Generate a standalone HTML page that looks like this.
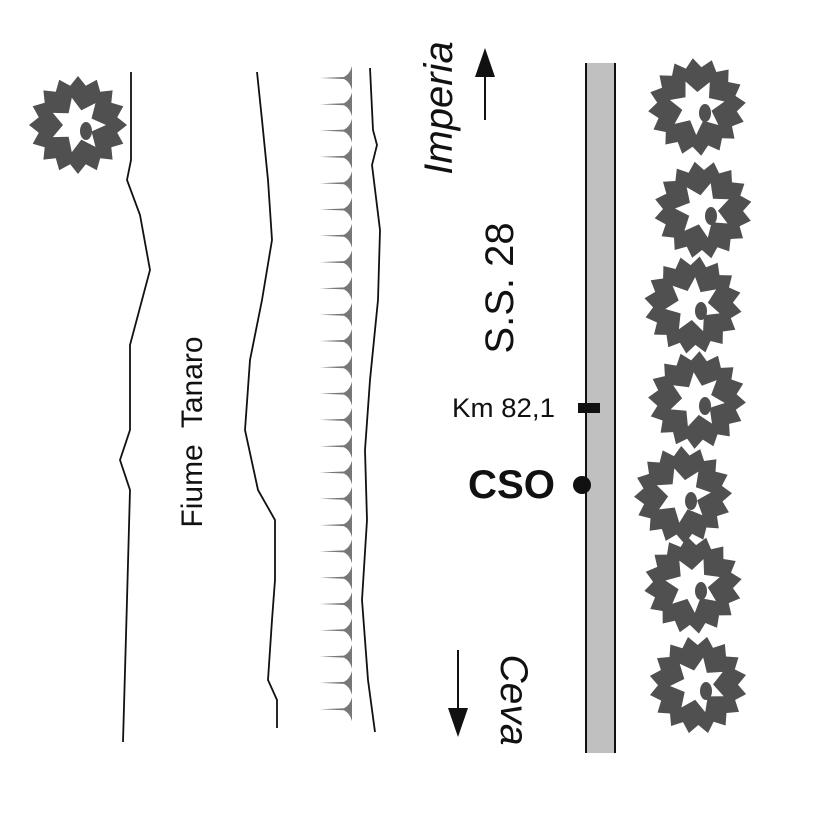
<!DOCTYPE html>
<html><head><meta charset="utf-8"><style>
html,body{margin:0;padding:0;background:#fff;width:826px;height:826px;overflow:hidden}
svg text{font-family:"Liberation Sans",Arial,sans-serif}
</style></head><body>
<svg id="s" width="826" height="826" viewBox="0 0 826 826" xmlns="http://www.w3.org/2000/svg">
<defs>
<g id="spike"><path d="M-32,0 L-8,-1 Q-2,-4 0,-12 L0,12 Q-2,4 -8,1 Z" fill="#777"/></g>
</defs>
<g fill="none" stroke="#111" stroke-width="1.8">
<polyline points="131,72 131,160 127,180 140,215 150,270 130,345 130,430 120,460 130,490 127,600 123,742"/>
<polyline points="257,72 262,120 268,180 272,240 262,300 250,360 245,430 258,490 275,520 275,580 272,620 268,680 277,700 277,728"/>
<polyline points="370,68 373,130 377,145 372,165 380,230 378,300 370,380 365,450 367,520 362,600 368,680 375,732"/>
</g>
<g id="spikes"></g>
<rect x="586" y="63" width="29" height="690" fill="#c0c0c0"/>
<line x1="586" y1="63" x2="586" y2="753" stroke="#111" stroke-width="2"/>
<line x1="615" y1="63" x2="615" y2="753" stroke="#111" stroke-width="2"/>
<rect x="578" y="403" width="22" height="10" fill="#111"/>
<circle cx="582" cy="485" r="9" fill="#111"/>
<text x="452" y="417" font-size="27" fill="#111" textLength="103" lengthAdjust="spacingAndGlyphs">Km 82,1</text>
<text x="468" y="498" font-size="40" font-weight="bold" fill="#111" textLength="87" lengthAdjust="spacingAndGlyphs">CSO</text>
<text transform="translate(452,108) rotate(-90)" text-anchor="middle" font-size="40" font-style="italic" fill="#111">Imperia</text>
<text transform="translate(513,288) rotate(-90)" text-anchor="middle" font-size="40" fill="#111">S.S. 28</text>
<text transform="translate(202,432) rotate(-90)" text-anchor="middle" font-size="30" fill="#111" xml:space="preserve">Fiume  Tanaro</text>
<text transform="translate(501,700) rotate(90)" text-anchor="middle" font-size="39" font-style="italic" fill="#111">Ceva</text>
<line x1="485" y1="120" x2="485" y2="70" stroke="#111" stroke-width="2"/>
<polygon points="485,48 475,77 495,77" fill="#111"/>
<line x1="458" y1="650" x2="458" y2="715" stroke="#111" stroke-width="2"/>
<polygon points="458,737 448,708 468,708" fill="#111"/>
<g id="trees"></g>
</svg>
<script>
(function(){
var ns="http://www.w3.org/2000/svg";
var sp=document.getElementById("spikes");
for(var y=78;y<=735;y+=26.3){var u=document.createElementNS(ns,"use");u.setAttribute("href","#spike");u.setAttribute("transform","translate(352,"+y.toFixed(1)+")");sp.appendChild(u);}
function tree(cx,cy,seed){
 var d="",n=16,i,a,r;
 for(i=0;i<n*2;i++){a=(i/(n*2))*Math.PI*2+seed;r=(i%2==0)?49:40;d+=(i?"L":"M")+(cx+r*Math.cos(a)).toFixed(1)+","+(cy+r*Math.sin(a)).toFixed(1);}
 d+="Z";
 var m=7;
 for(i=0;i<m*2;i++){a=(i/(m*2))*Math.PI*2+seed;r=(i%2==0)?28:15;d+=(i?"L":"M")+(cx+r*Math.cos(a)).toFixed(1)+","+(cy+r*Math.sin(a)).toFixed(1);}
 d+="Z";
 var p=document.createElementNS(ns,"path");p.setAttribute("d",d);p.setAttribute("fill","#505050");p.setAttribute("fill-rule","evenodd");
 document.getElementById("trees").appendChild(p);
 var e=document.createElementNS(ns,"ellipse");e.setAttribute("cx",cx+8);e.setAttribute("cy",cy+6);e.setAttribute("rx",6);e.setAttribute("ry",9);e.setAttribute("fill","#505050");
 document.getElementById("trees").appendChild(e);
}
var T=[[78,125],[697,107],[703,210],[693,305],[697,400],[683,495],[693,585],[698,685]];
T.forEach(function(t,i){tree(t[0],t[1],i*0.7);});
})();
</script>
</body></html>
